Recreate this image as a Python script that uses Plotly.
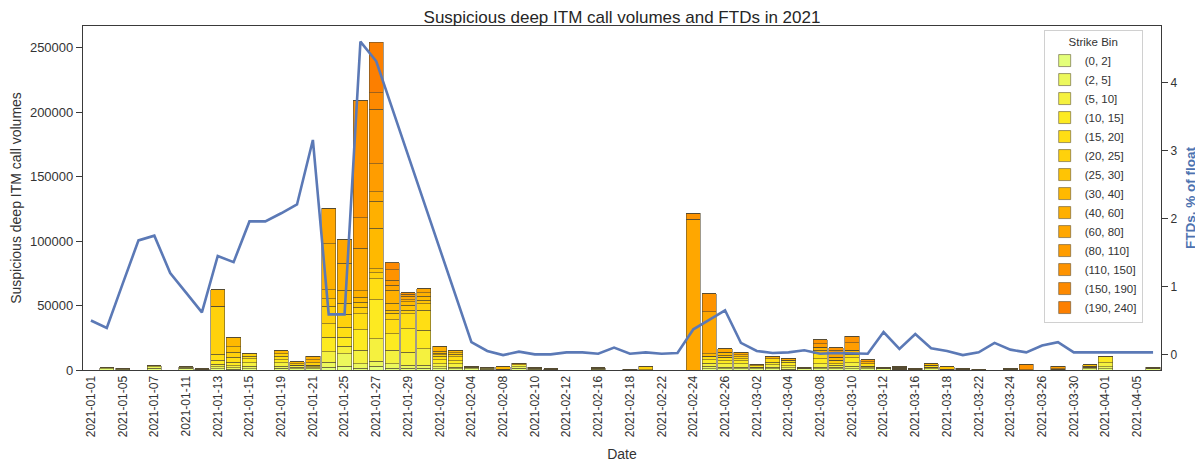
import numpy as np
import plotly.graph_objects as go

dates = [
    "2021-01-01", "2021-01-04", "2021-01-05", "2021-01-06", "2021-01-07", "2021-01-08",
    "2021-01-11", "2021-01-12", "2021-01-13", "2021-01-14", "2021-01-15",
    "2021-01-18", "2021-01-19", "2021-01-20", "2021-01-21", "2021-01-22",
    "2021-01-25", "2021-01-26", "2021-01-27", "2021-01-28", "2021-01-29",
    "2021-02-01", "2021-02-02", "2021-02-03", "2021-02-04", "2021-02-05",
    "2021-02-08", "2021-02-09", "2021-02-10", "2021-02-11", "2021-02-12",
    "2021-02-15", "2021-02-16", "2021-02-17", "2021-02-18", "2021-02-19",
    "2021-02-22", "2021-02-23", "2021-02-24", "2021-02-25", "2021-02-26",
    "2021-03-01", "2021-03-02", "2021-03-03", "2021-03-04", "2021-03-05",
    "2021-03-08", "2021-03-09", "2021-03-10", "2021-03-11", "2021-03-12",
    "2021-03-15", "2021-03-16", "2021-03-17", "2021-03-18", "2021-03-19",
    "2021-03-22", "2021-03-23", "2021-03-24", "2021-03-25", "2021-03-26",
    "2021-03-29", "2021-03-30", "2021-03-31", "2021-04-01", "2021-04-02",
    "2021-04-05", "2021-04-06",
]

strike_bins = ["(0, 2]", "(2, 5]", "(5, 10]", "(10, 15]", "(15, 20]", "(20, 25]", "(25, 30]",
               "(30, 40]", "(40, 60]", "(60, 80]", "(80, 110]", "(110, 150]", "(150, 190]", "(190, 240]"]

vol_0_2 = [0, 800, 700, 0, 1500, 0, 1200, 400, 1000, 700,
           1000, 0, 1500, 800, 800, 2000, 3000, 1500, 3000, 1500,
           1500, 1500, 1000, 800, 1000, 700, 400, 1300, 700, 400,
           0, 0, 600, 0, 300, 300, 0, 0, 0, 1000,
           800, 800, 1000, 800, 700, 800, 1000, 1000, 1000, 800,
           800, 600, 700, 1000, 500, 600, 300, 0, 700, 300,
           0, 500, 0, 1000, 1000, 0, 0, 800]
vol_2_5 = [0, 900, 800, 0, 1000, 0, 900, 0, 1700, 960,
           1850, 0, 1350, 1200, 1000, 4070, 9600, 3300, 3870, 3300,
           2000, 2000, 1500, 1500, 1000, 700, 0, 1300, 800, 0,
           0, 0, 600, 0, 0, 0, 0, 0, 0, 1730,
           1280, 1280, 1300, 1280, 860, 700, 1200, 1200, 1990, 1000,
           700, 0, 0, 0, 0, 0, 0, 0, 0, 0,
           0, 0, 0, 1000, 1500, 0, 0, 700]
vol_5_10 = [0, 0, 0, 0, 800, 0, 600, 0, 1570, 1820,
            2590, 0, 2590, 1500, 800, 8000, 6000, 10360, 17370, 10360,
            10370, 12960, 2500, 2500, 0, 800, 0, 1300, 0, 0,
            0, 0, 0, 0, 300, 0, 0, 0, 0, 2590,
            2590, 2590, 0, 1950, 1810, 0, 2590, 1300, 2590, 920,
            0, 0, 0, 1300, 0, 0, 300, 0, 0, 0,
            0, 0, 0, 0, 3000, 0, 0, 0]
vol_10_15 = [0, 0, 0, 0, 0, 0, 0, 500, 3390, 2590,
             3370, 0, 2590, 0, 1030, 11500, 6900, 16100, 30330, 12990,
             18130, 14260, 3000, 2500, 1000, 0, 0, 0, 700, 0,
             0, 0, 500, 0, 0, 0, 0, 0, 0, 2590,
             2590, 2590, 1000, 1950, 2600, 700, 3890, 1290, 3890, 0,
             700, 700, 700, 0, 0, 600, 0, 0, 0, 0,
             0, 0, 0, 1000, 5200, 0, 0, 700]
vol_15_20 = [0, 0, 0, 0, 0, 0, 0, 0, 4390, 3800,
             2000, 0, 2600, 0, 0, 10300, 7780, 12440, 16330, 10880,
             11700, 15550, 2500, 3000, 0, 0, 0, 0, 0, 500,
             0, 0, 0, 0, 0, 0, 0, 0, 0, 2590,
             2590, 1500, 0, 2580, 1500, 0, 3890, 0, 2590, 2070,
             0, 0, 0, 1500, 0, 0, 0, 0, 700, 0,
             0, 0, 0, 0, 0, 0, 0, 0]
vol_20_25 = [0, 0, 0, 0, 0, 0, 0, 0, 37330, 4000,
             1890, 0, 2070, 1500, 1810, 13500, 10000, 5140, 4400, 5140,
             2570, 5180, 1500, 2000, 0, 0, 0, 0, 0, 0,
             0, 0, 0, 0, 0, 2700, 0, 0, 0, 0,
             0, 1610, 0, 0, 0, 0, 0, 2600, 0, 0,
             0, 0, 0, 0, 0, 0, 0, 0, 0, 0,
             0, 0, 0, 0, 0, 0, 0, 0]
vol_25_30 = [0, 0, 0, 0, 0, 0, 0, 0, 0, 4000,
             0, 0, 0, 0, 0, 6000, 8660, 3880, 3370, 2100,
             3890, 2600, 1000, 1000, 0, 0, 0, 0, 0, 0,
             0, 0, 0, 0, 0, 0, 0, 0, 0, 0,
             1500, 0, 0, 0, 0, 0, 0, 0, 0, 0,
             0, 0, 0, 0, 2200, 0, 0, 0, 0, 0,
             0, 0, 0, 1000, 0, 0, 0, 0]
vol_30_40 = [0, 0, 0, 0, 0, 0, 0, 0, 12960, 7660,
             0, 0, 2070, 1400, 2590, 7000, 10000, 3880, 31130, 5670,
             2590, 3110, 1500, 1860, 0, 0, 2300, 1400, 0, 0,
             0, 0, 0, 0, 0, 0, 0, 0, 0, 2070,
             2390, 1500, 1000, 0, 0, 0, 2590, 2590, 3120, 0,
             0, 700, 0, 1000, 0, 0, 0, 0, 0, 0,
             0, 500, 0, 0, 0, 0, 0, 0]
vol_40_60 = [0, 0, 0, 0, 0, 0, 0, 0, 0, 0,
             0, 0, 0, 0, 2600, 35700, 20640, 4670, 21200, 9880,
             1820, 2590, 4000, 0, 0, 0, 0, 0, 0, 0,
             0, 0, 0, 0, 0, 0, 0, 0, 0, 0,
             0, 0, 0, 1810, 0, 0, 2600, 0, 0, 1500,
             0, 0, 0, 0, 0, 0, 0, 0, 0, 0,
             0, 0, 0, 0, 0, 0, 0, 0]
vol_60_80 = [0, 0, 0, 0, 0, 0, 0, 0, 0, 0,
             0, 0, 0, 0, 0, 27300, 18900, 32960, 7300, 4000,
             2590, 3380, 0, 0, 0, 0, 0, 0, 0, 0,
             0, 0, 0, 0, 0, 0, 0, 0, 117000, 32420,
             2590, 1870, 0, 0, 1090, 0, 0, 2590, 0, 0,
             0, 0, 0, 0, 0, 0, 0, 0, 0, 0,
             0, 0, 0, 0, 0, 0, 0, 0]
vol_80_110 = [0, 0, 0, 0, 0, 0, 0, 0, 0, 0,
              0, 0, 0, 0, 0, 0, 0, 23830, 21500, 3770,
              1560, 0, 0, 0, 0, 0, 0, 0, 0, 0,
              0, 0, 0, 0, 0, 0, 0, 0, 0, 0,
              0, 0, 0, 0, 0, 0, 2600, 2590, 5970, 1620,
              0, 700, 0, 0, 0, 0, 0, 0, 0, 0,
              0, 2000, 0, 0, 0, 0, 0, 0]
vol_110_150 = [0, 0, 0, 0, 0, 0, 0, 0, 0, 0,
               0, 0, 0, 0, 0, 0, 0, 90740, 42500, 8000,
               1000, 0, 0, 0, 0, 0, 0, 0, 0, 0,
               0, 0, 0, 0, 0, 0, 0, 0, 4460, 14260,
               0, 0, 0, 0, 0, 0, 3110, 2080, 4920, 0,
               0, 0, 0, 0, 0, 0, 0, 0, 0, 4000,
               0, 0, 0, 0, 0, 0, 0, 0]
vol_150_190 = [0, 0, 0, 0, 0, 0, 0, 0, 0, 0,
               0, 0, 0, 0, 0, 0, 0, 0, 12500, 5460,
               0, 0, 0, 0, 0, 0, 0, 0, 0, 0,
               0, 0, 0, 0, 0, 0, 0, 0, 0, 0,
               0, 0, 0, 0, 0, 0, 0, 0, 0, 0,
               0, 0, 0, 0, 0, 0, 0, 0, 0, 0,
               0, 0, 0, 0, 0, 0, 0, 0]
vol_190_240 = [0, 0, 0, 0, 0, 0, 0, 0, 0, 0,
               0, 0, 0, 0, 0, 0, 0, 0, 39300, 0,
               0, 0, 0, 0, 0, 0, 0, 0, 0, 0,
               0, 0, 0, 0, 0, 0, 0, 0, 0, 0,
               0, 0, 0, 0, 0, 0, 0, 0, 0, 0,
               0, 0, 0, 0, 0, 0, 0, 0, 0, 0,
               0, 0, 0, 0, 0, 0, 0, 0]

ftd_pct_float = [0.50, 0.39, 1.04, 1.68, 1.75, 1.20, 0.91, 0.62, 1.45, 1.36,
                 1.96, 1.96, 2.08, 2.21, 3.16, 0.59, 0.59, 4.61, 4.32, 3.63,
                 2.94, 2.26, 1.57, 0.88, 0.18, 0.05, -0.01, 0.04, 0.00, 0.00,
                 0.03, 0.03, 0.01, 0.10, 0.01, 0.03, 0.01, 0.02, 0.37, 0.51,
                 0.65, 0.17, 0.05, 0.02, 0.03, 0.06, 0.01, 0.02, 0.02, 0.01,
                 0.33, 0.08, 0.30, 0.09, 0.05, -0.01, 0.03, 0.17, 0.07, 0.03,
                 0.13, 0.18, 0.03, 0.03, 0.03, 0.03, 0.03, 0.03]

bin_series = [vol_0_2, vol_2_5, vol_5_10, vol_10_15, vol_15_20, vol_20_25, vol_25_30,
              vol_30_40, vol_40_60, vol_60_80, vol_80_110, vol_110_150, vol_150_190, vol_190_240]

# Wistia colormap sampled for the 14 bins
anchors = np.array([[228, 255, 122], [255, 232, 26], [255, 189, 0], [255, 160, 0], [252, 127, 0]], float)
pos = np.linspace(0, 1, 5)
def wistia(t):
    return tuple(int(round(np.interp(t, pos, anchors[:, c]))) for c in range(3))
colors = ["rgb(%d,%d,%d)" % wistia(t) for t in np.linspace(0, 1, len(strike_bins))]

fig = go.Figure()
for name, vals, col in zip(strike_bins, bin_series, colors):
    fig.add_trace(go.Bar(
        x=dates, y=vals, name=name, marker_color=col,
        marker_line=dict(color="rgba(85,75,50,0.7)", width=0.8),
        yaxis="y",
    ))

fig.add_trace(go.Scatter(
    x=dates, y=ftd_pct_float, mode="lines", name="FTDs",
    line=dict(color="#5b79b6", width=2.6), yaxis="y2", showlegend=False,
))

font_family = "Liberation Sans, Arial, sans-serif"
axis_col = "#3a3a3a"

# page body has an 8px margin, so the figure is sized to fit the window
W, H = 1195, 455
ML, MR, MT, MB = 75, 42, 18, 93
plot_w = W - ML - MR

fig.update_layout(
    width=W, height=H,
    margin=dict(l=ML, r=MR, t=MT, b=MB),
    paper_bgcolor="white", plot_bgcolor="white",
    barmode="stack", bargap=0.1,
    font=dict(family=font_family, color="#333333", size=12),
    title=dict(text="Suspicious deep ITM call volumes and FTDs in 2021",
               x=(ML + (W - MR)) / 2 / W, xanchor="center", y=(H - 9) / H, yanchor="middle",
               font=dict(size=17, color="#262626")),
    xaxis=dict(type="category", categoryorder="array", categoryarray=dates, automargin=False,
               tickmode="array", tickvals=dates[::2], ticktext=dates[::2],
               tickangle=-90, showline=True, mirror=True, linecolor=axis_col, linewidth=1.2,
               ticks="", showgrid=False,
               tickfont=dict(size=12, color="#333333"),
               title=dict(text="Date", font=dict(size=14, color="#333333"), standoff=12)),
    yaxis=dict(range=[0, 266700], tickmode="array", tickvals=[0, 50000, 100000, 150000, 200000, 250000],
               automargin=False,
               tickformat="d", showline=True, mirror=True, linecolor=axis_col, linewidth=1.2,
               ticks="outside", ticklen=6, tickcolor=axis_col, showgrid=False, zeroline=False,
               tickfont=dict(size=13, color="#333333"),
               title=dict(text="Suspicious deep ITM call volumes", font=dict(size=14, color="#333333"), standoff=5)),
    yaxis2=dict(overlaying="y", side="right", range=[-0.23, 4.84], tickmode="array", tickvals=[0, 1, 2, 3, 4],
                automargin=False,
                showline=False, ticks="outside", ticklen=6, tickcolor=axis_col, showgrid=False, zeroline=False,
                tickfont=dict(size=12, color="#333333")),
    annotations=[dict(text="<b>FTDs, % of float</b>", textangle=-90, showarrow=False,
                      xref="paper", yref="paper", x=1 + 29 / plot_w, y=0.5,
                      xanchor="center", yanchor="middle",
                      font=dict(size=13.5, color="#4c72b0", family=font_family))],
    legend=dict(x=0.983, y=0.988, xanchor="right", yanchor="top", traceorder="normal",
                bgcolor="white", bordercolor="#d0d0d0", borderwidth=1,
                font=dict(size=11.5, color="#333333"),
                title=dict(text="Strike Bin", side="top center", font=dict(size=11.5, color="#333333")),
                tracegroupgap=0),
    showlegend=True,
)

fig.write_html("out.html")
